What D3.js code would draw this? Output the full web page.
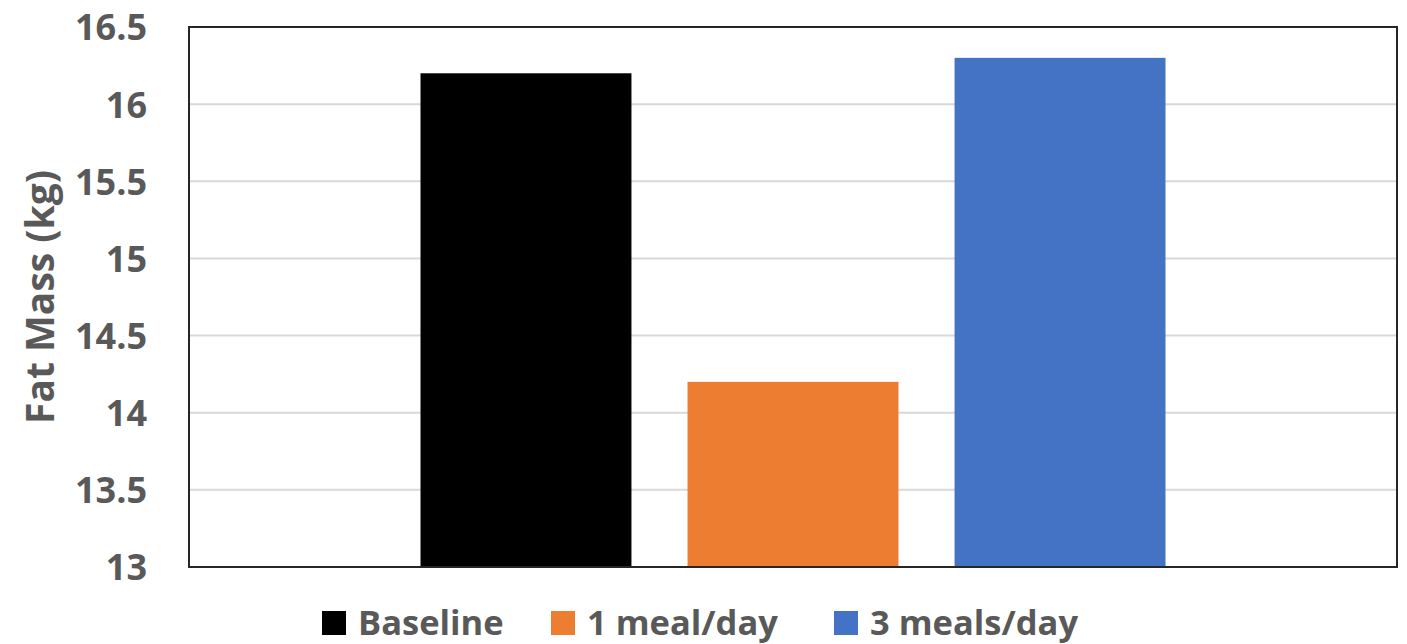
<!DOCTYPE html>
<html>
<head>
<meta charset="utf-8">
<script src="https://cdn.jsdelivr.net/npm/d3@7"></script>
<style>
  html, body { margin: 0; padding: 0; background: #fff; }
  svg { display: block; font-family: "Open Sans", "Liberation Sans", sans-serif; }
</style>
</head>
<body>
<svg id="chart" width="1407" height="644"></svg>
<script>
// Fat mass at baseline and after each meal-frequency condition
const groups = ["Baseline", "1 meal/day", "3 meals/day"];
const fatMass = [16.2, 14.2, 16.3];
const colors = ["#000000", "#ED7D31", "#4472C4"];
const yTicks = [13, 13.5, 14, 14.5, 15, 15.5, 16, 16.5];
const yTitle = "Fat Mass (kg)";

const plot = { left: 189, right: 1397, top: 27, bottom: 567 };
const svg = d3.select("#chart");

const y = d3.scaleLinear().domain([13, 16.5]).range([plot.bottom, plot.top]);
const x = d3.scaleBand().domain(groups)
  .range([plot.left, plot.right])
  .paddingInner(0.21)
  .paddingOuter(0.867);

// horizontal gridlines
svg.append("g")
  .selectAll("line")
  .data(yTicks.filter(t => t > 13 && t < 16.5))
  .join("line")
  .attr("x1", plot.left).attr("x2", plot.right)
  .attr("y1", d => y(d)).attr("y2", d => y(d))
  .attr("stroke", "#d9d9d9").attr("stroke-width", 2);

// bars
svg.append("g")
  .selectAll("rect")
  .data(groups)
  .join("rect")
  .attr("x", d => x(d))
  .attr("width", x.bandwidth())
  .attr("y", (d, i) => y(fatMass[i]))
  .attr("height", (d, i) => y(13) - y(fatMass[i]))
  .attr("fill", (d, i) => colors[i]);

// plot frame
svg.append("rect")
  .attr("x", plot.left).attr("y", plot.top)
  .attr("width", plot.right - plot.left)
  .attr("height", plot.bottom - plot.top)
  .attr("fill", "none")
  .attr("stroke", "#262626").attr("stroke-width", 2);

// y axis labels
const yAxis = d3.axisLeft(y).tickValues(yTicks).tickSize(0).tickPadding(0)
  .tickFormat(d => d3.format("~g")(d));
const ya = svg.append("g").attr("transform", `translate(147,0)`).call(yAxis);
ya.select(".domain").remove();
ya.selectAll("text")
  .attr("fill", "#595959")
  .attr("font-size", 36)
  .attr("font-weight", 700)
  .attr("font-family", "'Open Sans', sans-serif")
  .attr("dy", "0.36em");

// y axis title
svg.append("text")
  .attr("transform", `translate(54,${(plot.top + plot.bottom) / 2}) rotate(-90)`)
  .attr("text-anchor", "middle")
  .attr("fill", "#595959")
  .attr("font-size", 39)
  .attr("font-weight", 700)
  .text(yTitle);

// legend
const legendX = [322, 551, 834];
const legend = svg.append("g");
groups.forEach((g, i) => {
  legend.append("rect")
    .attr("x", legendX[i]).attr("y", 611)
    .attr("width", 24).attr("height", 24)
    .attr("fill", colors[i]);
  legend.append("text")
    .attr("x", legendX[i] + 36).attr("y", 635)
    .attr("fill", "#595959")
    .attr("font-size", 34.5)
    .attr("font-weight", 700)
    .text(g);
});
</script>
</body>
</html>
